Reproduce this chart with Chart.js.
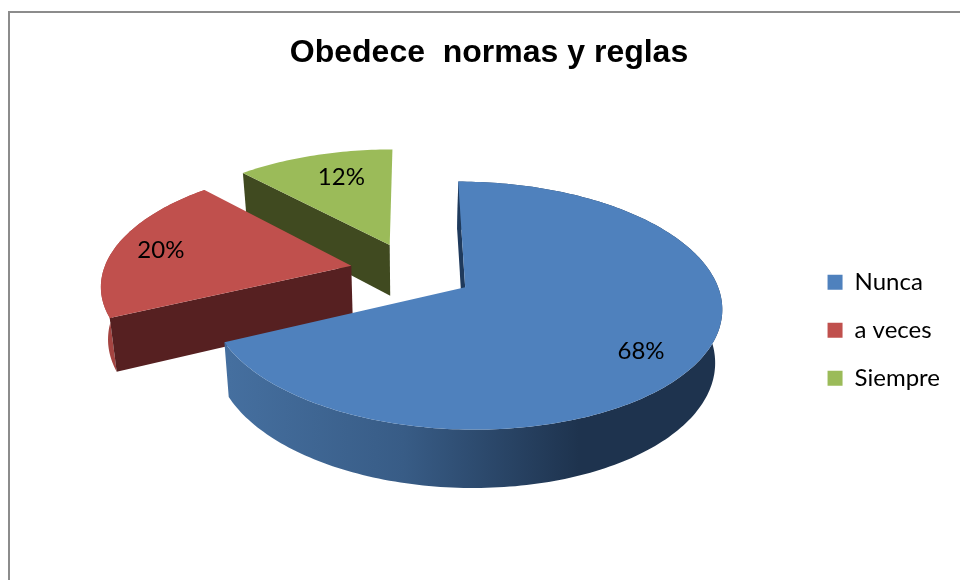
<!DOCTYPE html>
<html>
<head>
<meta charset="utf-8">
<title>Obedece normas y reglas</title>
<script src="https://cdn.jsdelivr.net/npm/chart.js@4"></script>
<style>
  html, body { margin: 0; padding: 0; background: #fff; }
  #wrap { position: relative; width: 960px; height: 580px; overflow: hidden; }
  #frame { position: absolute; left: 8px; top: 11px; width: 960px; height: 580px;
           border-left: 2px solid #8c8c8c; border-top: 2px solid #8c8c8c; }
  canvas { position: absolute; left: 0; top: 0; }
</style>
</head>
<body>
<div id="wrap">
  <div id="frame"></div>
  <canvas id="chart" width="960" height="580"></canvas>
</div>
<script>
"use strict";

const TITLE = "Obedece  normas y reglas";
const CATEGORIES = ["Nunca", "a veces", "Siempre"];
const VALUES = [68, 20, 12];
const COLORS = ["#4f81bd", "#c0504d", "#9bbb59"];
const FACE_COLORS = ["#1f3a5c", "#562021", "#404a20"];
const LABEL_RADIUS = [0.79, 0.81, 0.74];
const LABEL_TURN = [0.08, 0, 0.06];

/* Fake 3D view: Excel-like tilted disc with a little perspective. */
const VIEW = { dx: -4, dy: -59, squash: 0.47, persp: 0.146, depth: 53, shrink: 0.977 };

function project(cx, cy, R, X, Y, bottom) {
  const s = (1 / (1 - VIEW.persp * Y)) * (bottom ? VIEW.shrink : 1);
  return {
    x: cx + R * X * s,
    y: cy + (R * VIEW.squash * Y + (bottom ? VIEW.depth : 0)) * s,
  };
}

/* Points of one rim (top or bottom) of a slice, sampled along its angle. */
function rimPoints(cx, cy, R, ox, oy, start, end, bottom) {
  const pts = [];
  const steps = Math.max(2, Math.ceil((end - start) / 0.02));
  for (let i = 0; i <= steps; i++) {
    const a = start + (end - start) * i / steps;
    pts.push(project(cx, cy, R, ox + Math.cos(a), oy + Math.sin(a), bottom));
  }
  return pts;
}

function fillPoly(ctx, pts, fill) {
  ctx.beginPath();
  pts.forEach((p, i) => (i ? ctx.lineTo(p.x, p.y) : ctx.moveTo(p.x, p.y)));
  ctx.closePath();
  ctx.fillStyle = fill;
  ctx.fill();
}

function rimFill(ctx, index, pts) {
  if (index === 1) return "#a54441";
  const xs = pts.map((p) => p.x);
  const g = ctx.createLinearGradient(Math.min(...xs), 0, Math.max(...xs), 0);
  g.addColorStop(0, "#456f9f");
  g.addColorStop(0.36, "#385c86");
  g.addColorStop(0.72, "#1e334e");
  g.addColorStop(1, "#1e334e");
  return g;
}

const pie3d = {
  id: "pie3d",
  beforeDatasetsDraw(chart) {
    const { ctx } = chart;
    const arcs = chart.getDatasetMeta(0).data;
    // far slices first, the big front slice covers the wall of the red one
    for (let i = arcs.length - 1; i >= 0; i--) {
      const arc = arcs[i];
      const R = arc.outerRadius;
      const cx = arc.x + VIEW.dx;
      const cy = arc.y + VIEW.dy;
      const mid = (arc.startAngle + arc.endAngle) / 2;
      const d = arc.options.offset / R;
      const ox = Math.cos(mid) * d;
      const oy = Math.sin(mid) * d;
      const top = rimPoints(cx, cy, R, ox, oy, arc.startAngle, arc.endAngle, false);
      const low = rimPoints(cx, cy, R, ox, oy, arc.startAngle, arc.endAngle, true);
      const apexTop = project(cx, cy, R, ox, oy, false);
      const apexLow = project(cx, cy, R, ox, oy, true);

      // the green slice sits at the back, its outer wall never shows
      if (i !== 2) fillPoly(ctx, top.concat(low.slice().reverse()), rimFill(ctx, i, low));
      // cut faces only where they look towards the viewer
      if (Math.cos(arc.startAngle) < 0.01) {
        fillPoly(ctx, [apexTop, top[0], low[0], apexLow], FACE_COLORS[i]);
      }
      if (Math.cos(arc.endAngle) > 0.01) {
        fillPoly(ctx, [apexTop, top[top.length - 1], low[low.length - 1], apexLow], FACE_COLORS[i]);
      }
      fillPoly(ctx, [apexTop].concat(top), arc.options.backgroundColor);

      const f = LABEL_RADIUS[i];
      const la = mid + LABEL_TURN[i];
      const lp = project(cx, cy, R, ox + Math.cos(la) * f, oy + Math.sin(la) * f, false);
      ctx.fillStyle = "#000";
      ctx.font = '24px Lato, "Open Sans", sans-serif';
      ctx.textAlign = "center";
      ctx.textBaseline = "middle";
      ctx.fillText(`${VALUES[i]}%`, lp.x, lp.y + 2);
    }
    return false;
  },
};

new Chart(document.getElementById("chart"), {
  type: "pie",
  data: {
    labels: CATEGORIES,
    datasets: [{ data: VALUES, backgroundColor: COLORS, borderWidth: 0, offset: 62, radius: 248 }],
  },
  options: {
    responsive: false,
    animation: false,
    layout: { padding: { left: 28, right: 10, top: 0, bottom: 2 } },
    plugins: {
      title: {
        display: true,
        text: TITLE,
        color: "#000",
        font: { family: '"Liberation Sans", Arial, sans-serif', size: 32, weight: "bold" },
        padding: { top: 34, bottom: 10 },
      },
      legend: {
        position: "right",
        fullSize: false,
        labels: {
          color: "#000",
          boxWidth: 15,
          boxHeight: 15,
          padding: 24,
          font: { family: 'Lato, "Open Sans", sans-serif', size: 24 },
        },
      },
    },
  },
  plugins: [pie3d],
});
</script>
</body>
</html>
